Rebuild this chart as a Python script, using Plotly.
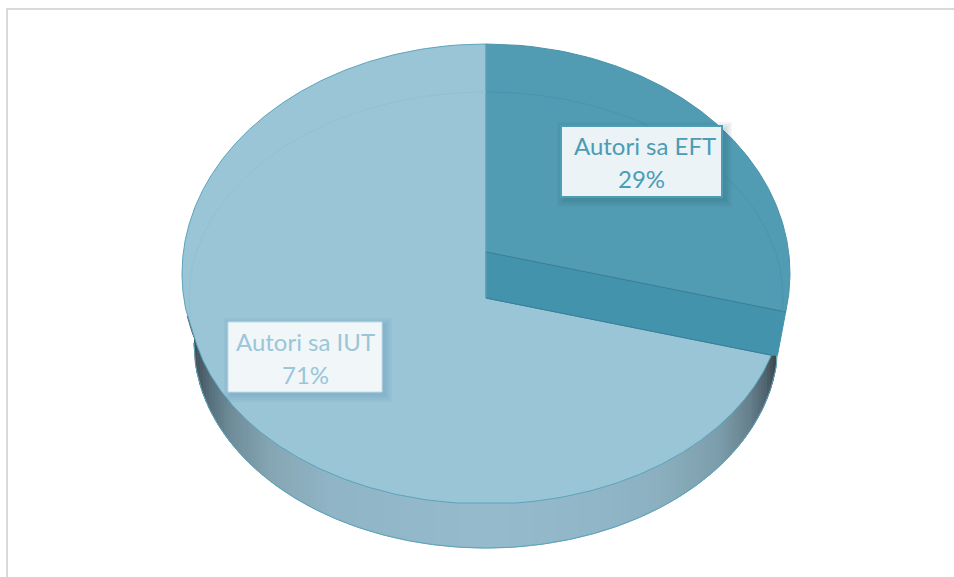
import numpy as np
import plotly.graph_objects as go

# ---- data ----
categories = ["Autori sa EFT", "Autori sa IUT"]
shares = [29, 71]

# ---- pie geometry (ellipses of the perspective view) ----
CX = 486
OUTER = dict(cy=273.5, rx=304, ry=229.5)   # upper silhouette
FACE = dict(cy=298, rx=297, ry=206)        # lower plane of the disc
RIM = dict(cy=343, rx=292, ry=205)         # bottom of the side wall
APEX_TOP, APEX_LOW = 252, 298
FORESHORTEN = 0.78

EFT_FACE = "#519CB2"
EFT_CUT = "#4493AD"
IUT_FACE = "#9AC5D7"
EDGE = "#5BA4BC"
CUT_EDGE = "#3A7F97"

share_eft = shares[0] / sum(shares)
theta = 2 * np.pi * share_eft
slope = -np.cos(theta) * FORESHORTEN / np.sin(theta)


def half_w(e, y):
    v = 1 - ((np.asarray(y, float) - e["cy"]) / e["ry"]) ** 2
    return e["rx"] * np.sqrt(np.clip(v, 0, 1))


def y_low(e, x):
    v = 1 - ((np.asarray(x, float) - CX) / e["rx"]) ** 2
    return e["cy"] + e["ry"] * np.sqrt(np.clip(v, 0, 1))


def edge_hit(apex, e):
    dx = np.linspace(0, e["rx"], 4000)
    y = apex + slope * dx
    inside = (dx / e["rx"]) ** 2 + ((y - e["cy"]) / e["ry"]) ** 2 <= 1
    i = np.argmax(~inside) - 1
    return CX + dx[i], y[i]


top_edge = edge_hit(APEX_TOP, OUTER)
low_edge = edge_hit(APEX_LOW, FACE)
silh_y = np.linspace(44, 503, 500)
# the face follows the upper silhouette, then eases on to its own lower arc
blend = np.clip((silh_y - 316) / 24, 0, 1)
silh_dx = (1 - blend) * half_w(OUTER, silh_y) + blend * half_w(FACE, silh_y)

fig = go.Figure()


def poly(xs, ys, fill, line=None, width=1):
    fig.add_trace(go.Scatter(
        x=list(xs), y=list(ys), mode="lines", fill="toself", fillcolor=fill,
        line=dict(color=line or fill, width=width), hoverinfo="skip", showlegend=False))


def path(xs, ys, color, width=1):
    fig.add_trace(go.Scatter(
        x=list(xs), y=list(ys), mode="lines",
        line=dict(color=color, width=width), hoverinfo="skip", showlegend=False))


# side wall: shaded in narrow strips
stops_x = [195, 210, 230, 270, 330, 486, 600, 660, 720, 750, 765, 777]
stops_r = [68, 86, 110, 134, 144, 149, 144, 140, 124, 102, 80, 58]
stops_g = [80, 112, 140, 166, 181, 187, 182, 176, 157, 128, 102, 68]
stops_b = [88, 124, 153, 180, 198, 205, 200, 192, 171, 140, 112, 74]
edges = np.arange(CX - RIM["rx"], CX + RIM["rx"] + 0.1, 3.0)
for a, b in zip(edges[:-1], edges[1:]):
    m = (a + b) / 2
    xs = np.linspace(a, b, 3)
    col = "rgb(%d,%d,%d)" % (np.interp(m, stops_x, stops_r),
                             np.interp(m, stops_x, stops_g),
                             np.interp(m, stops_x, stops_b))
    poly(np.r_[xs, xs[::-1]], np.r_[y_low(FACE, xs) - 2, y_low(RIM, xs)[::-1]], col)

# dark sliver where the wall starts, left
sl_y = np.linspace(316, 344, 30)
poly(np.r_[CX - half_w(OUTER, sl_y), CX - half_w(FACE, sl_y)[::-1] + 8],
     np.r_[sl_y, sl_y[::-1]], "#4A5C64")

# rim bottom outline
rx = np.linspace(CX - RIM["rx"], CX + RIM["rx"], 400)
path(rx, y_low(RIM, rx), EDGE, 1)

# IUT face: apex -> lower edge of the cut -> round the silhouette -> top -> apex
mask_r = silh_y >= low_edge[1]
xr = CX + silh_dx[mask_r]
yr = silh_y[mask_r]
xl = CX - silh_dx[::-1]
yl = silh_y[::-1]
poly(np.r_[CX, low_edge[0], xr, xl, CX],
     np.r_[APEX_LOW, low_edge[1], yr, yl, APEX_LOW], IUT_FACE, EDGE, 1)

# EFT top face
arc_y = np.linspace(44, top_edge[1], 200)
poly(np.r_[CX, CX + half_w(OUTER, arc_y), top_edge[0], CX],
     np.r_[44, arc_y, top_edge[1], APEX_TOP], EFT_FACE, "#4A93AA", 1)

# EFT cut face
wall_y = np.linspace(top_edge[1], low_edge[1], 30)
wall_x = np.linspace(top_edge[0], CX + half_w(RIM, low_edge[1]), 30)
poly(np.r_[CX, wall_x, low_edge[0], CX, CX],
     np.r_[APEX_TOP, wall_y, low_edge[1], APEX_LOW, APEX_TOP], EFT_CUT)
path([CX, top_edge[0]], [APEX_TOP, top_edge[1]], CUT_EDGE)
path([CX, low_edge[0]], [APEX_LOW, low_edge[1]], CUT_EDGE)
path([CX, CX], [44, APEX_LOW], "#5E9FB5")

# faint ring of the far plane, seen through the translucent disc
t = np.linspace(-np.pi * 0.53, 0, 150)
path(CX + FACE["rx"] * np.sin(t), FACE["cy"] - FACE["ry"] * np.cos(t), "#92C0D2")
t = np.linspace(0, np.pi * 0.53, 150)
path(CX + FACE["rx"] * np.sin(t), FACE["cy"] - FACE["ry"] * np.cos(t), "#4A95AD")

# labels
labels = [
    dict(i=0, box=(561, 126, 722, 197), fill="#ECF3F6", border="#4D9DB5", bw=2, nudge=3,
         text="#4B9CB5", shadow="rgba(40,90,110,0.06)"),
    dict(i=1, box=(228, 322, 382, 392), fill="#F1F6F9", border="#C0DCE7", bw=1, nudge=0,
         text="#9AC6D8", shadow="rgba(60,120,150,0.05)"),
]
shapes = []
for lab in labels:
    x0, y0, x1, y1 = lab["box"]
    for g in (7, 5, 3, 1):
        shapes.append(dict(type="rect", x0=x0 - g + 3, x1=x1 + g + 3, y0=y0 - g + 3, y1=y1 + g + 3,
                           fillcolor=lab["shadow"], line=dict(width=0), layer="above"))
    shapes.append(dict(type="rect", x0=x0, x1=x1, y0=y0, y1=y1, fillcolor=lab["fill"],
                       line=dict(color=lab["border"], width=lab["bw"]), layer="above"))
    mid = (x0 + x1) / 2
    for text, dx, dy in ((categories[lab["i"]], lab["nudge"], 19), (f"{shares[lab['i']]}%", 0, 52)):
        fig.add_annotation(x=mid + dx, y=y0 + dy, xref="x", yref="y", showarrow=False, text=text,
                           font=dict(family="Lato", size=24, color=lab["text"]))

# chart frame (only top and left are in view)
shapes.append(dict(type="line", x0=7, x1=7, y0=9, y1=577, line=dict(color="#D9D9D9", width=2), layer="below"))
shapes.append(dict(type="line", x0=6, x1=954, y0=9, y1=9, line=dict(color="#D9D9D9", width=2), layer="below"))

fig.update_layout(
    width=954, height=577, margin=dict(l=0, r=0, t=0, b=0),
    paper_bgcolor="white", plot_bgcolor="white", showlegend=False, shapes=shapes,
    xaxis=dict(range=[0, 954], visible=False, fixedrange=True),
    yaxis=dict(range=[577, 0], visible=False, fixedrange=True),
)
fig.write_html("out.html", config={"displayModeBar": False},
               post_script="document.body.style.margin='0';document.documentElement.style.overflow='hidden';")
